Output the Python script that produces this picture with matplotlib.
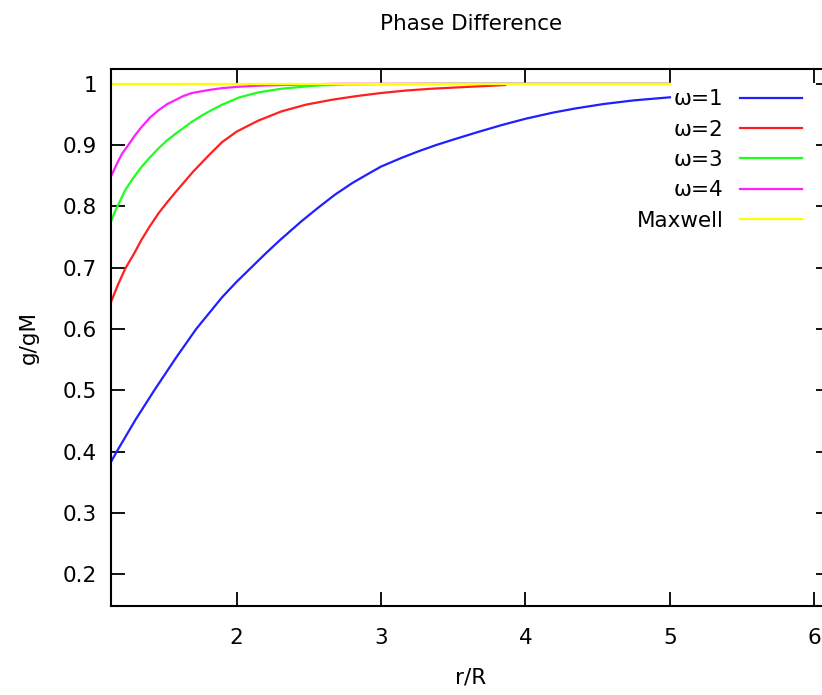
import matplotlib
matplotlib.use("Agg")
import matplotlib.pyplot as plt

# g/gM versus r/R for each omega, read point by point
r_w1 = [1.13, 1.17, 1.30, 1.43, 1.58, 1.72, 1.90, 2.0, 2.10, 2.20, 2.30, 2.45, 2.56, 2.68, 2.80, 2.91, 3.0,
        3.14, 3.26, 3.38, 3.50, 3.68, 3.84, 4.0, 4.19, 4.35, 4.54, 4.75, 5.0]
g_w1 = [0.383, 0.400, 0.452, 0.500, 0.553, 0.600, 0.652, 0.677, 0.700, 0.723, 0.745, 0.776, 0.797, 0.819,
        0.838, 0.853, 0.865, 0.879, 0.890, 0.900, 0.909, 0.922, 0.933, 0.943, 0.953, 0.960, 0.967, 0.973, 0.978]

r_w2 = [1.13, 1.18, 1.23, 1.29, 1.34, 1.40, 1.46, 1.52, 1.58, 1.70, 1.81, 1.90, 2.0, 2.15, 2.31, 2.48, 2.66,
        2.83, 3.0, 3.17, 3.35, 3.60, 3.86]
g_w2 = [0.644, 0.673, 0.699, 0.723, 0.745, 0.768, 0.789, 0.807, 0.824, 0.857, 0.884, 0.905, 0.922, 0.940,
        0.955, 0.966, 0.974, 0.980, 0.985, 0.989, 0.992, 0.995, 0.998]

r_w3 = [1.13, 1.16, 1.23, 1.28, 1.34, 1.40, 1.46, 1.52, 1.58, 1.69, 1.75, 1.81, 1.90, 2.02, 2.15, 2.31, 2.54,
        2.75, 3.0, 3.5, 5.0]
g_w3 = [0.775, 0.793, 0.827, 0.845, 0.864, 0.880, 0.895, 0.908, 0.919, 0.938, 0.947, 0.955, 0.966, 0.978,
        0.986, 0.992, 0.997, 0.999, 0.9995, 1.0, 1.0]

r_w4 = [1.13, 1.18, 1.21, 1.25, 1.29, 1.34, 1.40, 1.46, 1.52, 1.58, 1.63, 1.69, 1.81, 1.90, 2.0, 2.15, 2.3,
        2.7, 5.0]
g_w4 = [0.849, 0.874, 0.887, 0.900, 0.914, 0.929, 0.945, 0.957, 0.967, 0.974, 0.980, 0.985, 0.990, 0.993,
        0.995, 0.997, 0.998, 1.0, 1.0]

r_max = [1.13, 5.0]
g_max = [1.0, 1.0]

labels = ["ω=1", "ω=2", "ω=3", "ω=4", "Maxwell"]
colors = ["#1f1fff", "#ff1f1f", "#1fff1f", "#ff1fff", "#ffff00"]

plt.rcParams["font.family"] = ["DejaVu Sans"]
plt.rcParams["font.size"] = 15.5

fig = plt.figure(figsize=(8.22, 6.95), dpi=100)
ax = fig.add_axes([0.135, 0.128, 0.875, 0.773])

series = [(r_w1, g_w1), (r_w2, g_w2), (r_w3, g_w3), (r_w4, g_w4), (r_max, g_max)]
for (x, y), lab, col in zip(series, labels, colors):
    ax.plot(x, y, color=col, lw=1.6, label=lab, solid_joinstyle="round")

ax.set_xlim(1.13, 6.11)
ax.set_ylim(0.148, 1.0245)
ax.set_xticks([2, 3, 4, 5, 6])
ax.set_yticks([0.2, 0.3, 0.4, 0.5, 0.6, 0.7, 0.8, 0.9, 1.0])
ax.set_yticklabels(["0.2", "0.3", "0.4", "0.5", "0.6", "0.7", "0.8", "0.9", "1"])

# gnuplot-style inward ticks on all four sides
ax.tick_params(direction="in", length=10, width=1.3, top=True, right=True,
               labelsize=15.5, colors="black")
ax.tick_params(axis="x", pad=16)
ax.tick_params(axis="y", pad=10)
for sp in ax.spines.values():
    sp.set_linewidth(1.5)

ax.set_title("Phase Difference", fontsize=15.5, pad=28)
ax.set_xlabel("r/R", fontsize=15.5, labelpad=14)
ax.set_ylabel("g/gM", fontsize=15.5, labelpad=17)

leg = ax.legend(loc="upper right", frameon=False, markerfirst=False,
                handlelength=2.9, handletextpad=0.75, labelspacing=0.48,
                bbox_to_anchor=(0.988, 0.998), fontsize=15.5)

fig.savefig("out.png", dpi=100)
